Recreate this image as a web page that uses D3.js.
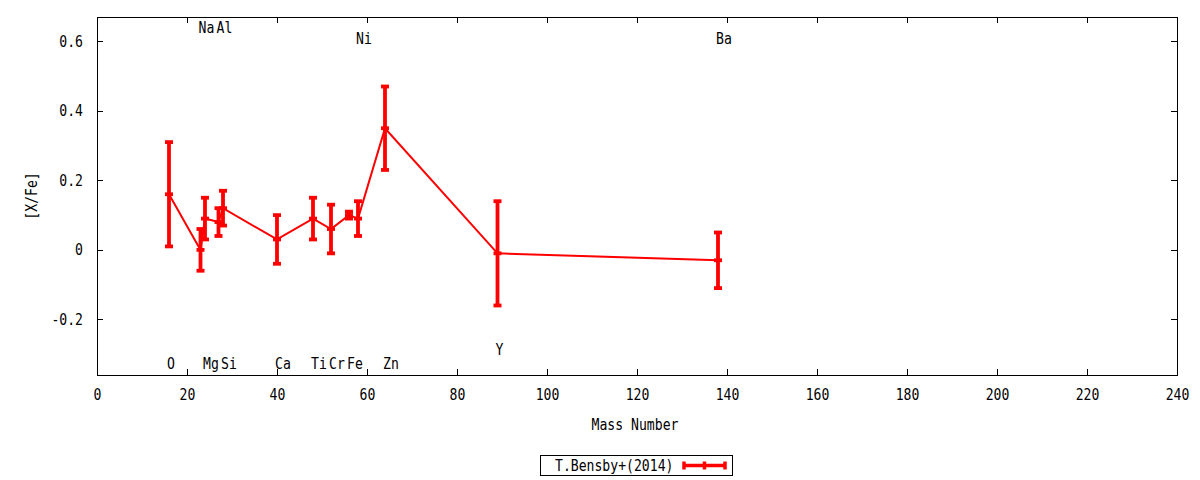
<!DOCTYPE html>
<html>
<head>
<meta charset="utf-8">
<script src="https://cdn.jsdelivr.net/npm/d3@7"></script>
<style>
  body { margin: 0; background: #fff; }
  text { font-family: "DejaVu Sans Mono", monospace; font-size: 16px; fill: #000; }
</style>
</head>
<body>
<div id="chart"></div>
<script>
const W = 1200;
const H = 480;
const MARGIN = { LEFT: 97, RIGHT: 23, TOP: 17, BOTTOM: 105 };
const SQUEEZE = 0.82; // condensed mono look

// data: T.Bensby+(2014)
const elements = ["O", "Na", "Mg", "Al", "Si", "Ca", "Ti", "Cr", "Fe", "Ni", "Zn", "Y", "Ba"];
const massNumber = [16, 23, 24, 27, 28, 40, 48, 52, 56, 58, 64, 89, 138];
const xFe = [0.16, 0.0, 0.09, 0.08, 0.12, 0.03, 0.09, 0.06, 0.10, 0.09, 0.35, -0.01, -0.03];
const xFeErr = [0.15, 0.06, 0.06, 0.04, 0.05, 0.07, 0.06, 0.07, 0.01, 0.05, 0.12, 0.15, 0.08];
// element label heights ([X/Fe] units)
const labelY = [-0.325, 0.64, -0.325, 0.64, -0.325, -0.325, -0.325, -0.325, -0.325, 0.61, -0.325, -0.285, 0.61];

const xTicks = d3.range(0, 241, 20);
const yTicks = [-0.2, 0, 0.2, 0.4, 0.6];
const seriesName = "T.Bensby+(2014)";

const svg = d3.select("#chart").append("svg").attr("width", W).attr("height", H);

const x = d3.scaleLinear().domain([0, 240]).range([MARGIN.LEFT, W - MARGIN.RIGHT]);
const y = d3.scaleLinear().domain([-0.36, 0.67]).range([H - MARGIN.BOTTOM, MARGIN.TOP]);

// condensed text helper
function label(g, px, py, s, anchor, rot) {
  return g.append("text")
    .attr("transform", `translate(${px},${py})` + (rot ? ` rotate(${rot})` : "") + ` scale(${SQUEEZE},1)`)
    .attr("text-anchor", anchor || "middle")
    .text(s);
}
function squeezeTicks(axisG) {
  axisG.selectAll(".tick text").each(function () {
    const t = d3.select(this);
    const tx = +t.attr("x") || 0;
    const ty = +t.attr("y") || 0;
    t.attr("x", 0).attr("y", 0).attr("transform", `translate(${tx},${ty}) scale(${SQUEEZE},1)`);
  });
}

// axes (ticks inward, mirrored)
const fmtY = (d) => (d === 0 ? "0" : d.toFixed(1));
const bottomAxis = svg.append("g").attr("transform", `translate(0,${y.range()[0]})`)
  .call(d3.axisBottom(x).tickValues(xTicks).tickSizeInner(-6).tickSizeOuter(0).tickPadding(14));
const leftAxis = svg.append("g").attr("transform", `translate(${x.range()[0]},0)`)
  .call(d3.axisLeft(y).tickValues(yTicks).tickFormat(fmtY).tickSizeInner(-6).tickSizeOuter(0).tickPadding(14));
const topAxis = svg.append("g").attr("transform", `translate(0,${y.range()[1]})`)
  .call(d3.axisTop(x).tickValues(xTicks).tickSizeInner(-6).tickSizeOuter(0).tickFormat(""));
const rightAxis = svg.append("g").attr("transform", `translate(${x.range()[1]},0)`)
  .call(d3.axisRight(y).tickValues(yTicks).tickSizeInner(-6).tickSizeOuter(0).tickFormat(""));

[bottomAxis, leftAxis, topAxis, rightAxis].forEach((a) => {
  a.attr("font-family", null).attr("font-size", null);
  a.selectAll("path, line").attr("stroke", "#000").attr("stroke-width", 1).attr("shape-rendering", "crispEdges");
});
squeezeTicks(bottomAxis);
squeezeTicks(leftAxis);

// axis titles
label(svg, 635, 430, "Mass Number");
label(svg, 37, (y.range()[0] + y.range()[1]) / 2, "[X/Fe]", "middle", -90);

const pts = massNumber.map((m, i) => ({ m: m, v: xFe[i], e: xFeErr[i], name: elements[i], ly: labelY[i] }));

// connecting line
const line = d3.line().x((d) => x(d.m)).y((d) => y(d.v));
svg.append("path")
  .attr("fill", "none")
  .attr("stroke", "#ff0000")
  .attr("stroke-width", 2)
  .attr("d", line(pts));

// error bars
const CAP = 4;
const bars = svg.append("g").attr("stroke", "#ff0000").attr("stroke-width", 3.8);
pts.forEach((d) => {
  const cx = x(d.m);
  bars.append("line").attr("x1", cx).attr("x2", cx).attr("y1", y(d.v - d.e)).attr("y2", y(d.v + d.e));
  [d.v - d.e, d.v + d.e, d.v].forEach((v) => {
    bars.append("line").attr("x1", cx - CAP).attr("x2", cx + CAP).attr("y1", y(v)).attr("y2", y(v));
  });
});

// element labels
pts.forEach((d) => {
  label(svg, x(d.m) - 2, y(d.ly) + 6, d.name, "start");
});

// legend
const lg = svg.append("g");
lg.append("rect")
  .attr("x", 540.5).attr("y", 455.5).attr("width", 192).attr("height", 20)
  .attr("fill", "none").attr("stroke", "#000").attr("stroke-width", 1);
label(lg, 555, 471, seriesName, "start");
const ly = 465.5;
lg.append("line").attr("x1", 684).attr("x2", 725).attr("y1", ly).attr("y2", ly)
  .attr("stroke", "#ff0000").attr("stroke-width", 3.5);
[684, 704.5, 725].forEach((lx) => {
  lg.append("line").attr("x1", lx).attr("x2", lx).attr("y1", ly - 4).attr("y2", ly + 4)
    .attr("stroke", "#ff0000").attr("stroke-width", 3.5);
});
</script>
</body>
</html>
